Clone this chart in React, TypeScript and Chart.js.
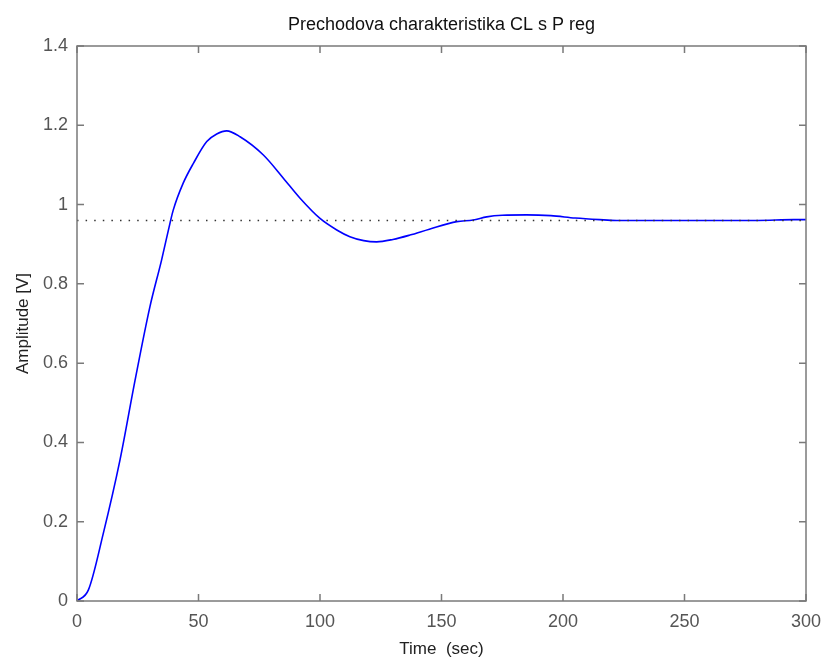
import React, { useEffect, useRef } from "react";
import { Chart, registerables } from "chart.js";

Chart.register(...registerables);

const times = [0, 4.7, 10.8, 17.7, 23.9, 30, 34.8, 38.3, 39.6, 43.7, 47.9, 53.4, 57.5, 61.6, 67.1, 76.7, 85, 91.8, 100, 106.9, 112.3, 118, 123.3, 130, 137, 145, 156.3, 163, 168.6, 175, 185, 195, 205, 215, 222, 240, 260, 280, 295, 300];
const amplitudes = [0, 0.028, 0.17, 0.356, 0.557, 0.742, 0.86, 0.954, 0.986, 1.054, 1.104, 1.159, 1.178, 1.186, 1.171, 1.125, 1.066, 1.016, 0.965, 0.936, 0.919, 0.909, 0.906, 0.912, 0.923, 0.938, 0.957, 0.961, 0.969, 0.973, 0.974, 0.972, 0.966, 0.962, 0.96, 0.96, 0.96, 0.96, 0.962, 0.962];
const steadyState = 0.96;
const xRange = [0, 300];
const yRange = [0, 1.4];
const xStep = 50;
const yStep = 0.2;
const titleText = "Prechodova charakteristika CL s P reg";
const xTitle = "Time  (sec)";
const yTitle = "Amplitude [V]";

const FONT = "'Liberation Sans', Arial, sans-serif";

const framePlugin = {
  id: "matlabFrame",
  afterDraw(chart: any) {
    const { ctx, chartArea } = chart;
    const { left, right, top, bottom } = chartArea;
    const xs = chart.scales.x;
    const ys = chart.scales.y;
    ctx.save();
    ctx.strokeStyle = "#7a7a7a";
    ctx.lineWidth = 1.5;
    ctx.strokeRect(left, top, right - left, bottom - top);
    const tl = 7;
    ctx.beginPath();
    xs.ticks.forEach((t: any) => {
      const px = xs.getPixelForValue(t.value);
      ctx.moveTo(px, bottom);
      ctx.lineTo(px, bottom - tl);
      ctx.moveTo(px, top);
      ctx.lineTo(px, top + tl);
    });
    ys.ticks.forEach((t: any) => {
      const py = ys.getPixelForValue(t.value);
      ctx.moveTo(left, py);
      ctx.lineTo(left + tl, py);
      ctx.moveTo(right, py);
      ctx.lineTo(right - tl, py);
    });
    ctx.stroke();

    ctx.fillStyle = "#111";
    ctx.font = `18px ${FONT}`;
    ctx.textAlign = "center";
    ctx.textBaseline = "alphabetic";
    ctx.fillText(titleText, (left + right) / 2, 30);
    ctx.fillStyle = "#222";
    ctx.font = `17px ${FONT}`;
    ctx.fillText(xTitle, (left + right) / 2, 654);
    ctx.translate(28, (top + bottom) / 2);
    ctx.rotate(-Math.PI / 2);
    ctx.fillText(yTitle, 0, 0);
    ctx.restore();
  },
};

export default function App() {
  const ref = useRef<HTMLCanvasElement>(null);
  useEffect(() => {
    document.body.style.margin = "0";
    const points = times.map((t, i) => ({ x: t, y: amplitudes[i] }));
    const chart = new Chart(ref.current as HTMLCanvasElement, {
      type: "line",
      data: {
        datasets: [
          {
            data: [
              { x: xRange[0], y: steadyState },
              { x: xRange[1], y: steadyState },
            ],
            borderColor: "#333",
            borderWidth: 1.5,
            borderDash: [1.5, 7.1],
            pointRadius: 0,
            fill: false,
          },
          {
            data: points,
            borderColor: "#0000ff",
            borderWidth: 1.6,
            pointRadius: 0,
            fill: false,
            cubicInterpolationMode: "monotone",
          },
        ],
      },
      options: {
        animation: false,
        responsive: true,
        maintainAspectRatio: false,
        layout: { padding: { top: 46, right: 16, left: 0, bottom: 0 } },
        plugins: { legend: { display: false }, tooltip: { enabled: false }, title: { display: false } },
        scales: {
          x: {
            type: "linear",
            min: xRange[0],
            max: xRange[1],
            grid: { display: false, drawTicks: false },
            border: { display: false },
            ticks: { stepSize: xStep, color: "#555", font: { family: FONT, size: 18 }, padding: 10, maxRotation: 0 },
            afterFit(scale: any) {
              scale.height = 60;
              scale.paddingLeft = 0;
              scale.paddingRight = 0;
            },
          },
          y: {
            type: "linear",
            min: yRange[0],
            max: yRange[1],
            grid: { display: false, drawTicks: false },
            border: { display: false },
            ticks: {
              stepSize: yStep,
              color: "#555",
              font: { family: FONT, size: 18 },
              padding: 9,
              callback: (v: any) => String(Number(Number(v).toFixed(1))),
            },
            afterFit(scale: any) {
              scale.width = 77;
              scale.paddingTop = 0;
              scale.paddingBottom = 0;
            },
          },
        },
      },
      plugins: [framePlugin],
    });
    return () => chart.destroy();
  }, []);
  return (
    <div style={{ position: "relative", width: 822, height: 661 }}>
      <canvas ref={ref} />
    </div>
  );
}
